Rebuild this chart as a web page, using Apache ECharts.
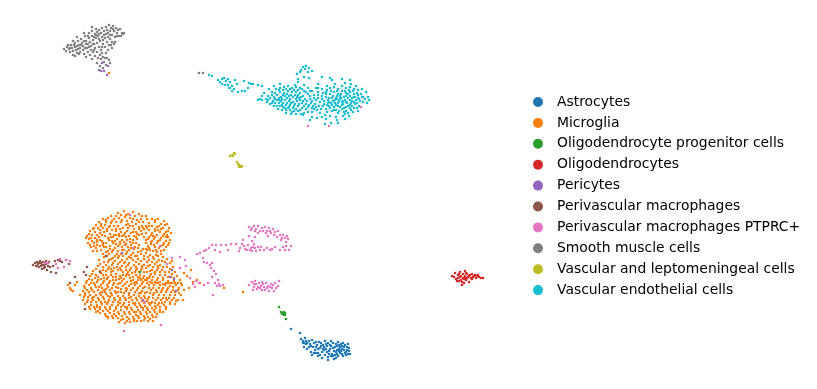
<!DOCTYPE html>
<html>
<head>
<meta charset="utf-8">
<title>UMAP cell types</title>
<script src="https://cdn.jsdelivr.net/npm/echarts@6/dist/echarts.min.js"></script>
<style>
  html, body { margin: 0; padding: 0; background: #fff; }
  #main { width: 817px; height: 389px; }
</style>
</head>
<body>
<div id="main"></div>
<script>
// no ticks in the reference, so values are read off the picture in its own units
const astrocytes = [[291,329],[300,333],[301,339],[303,341],[305,338],[307,343],[304,347],[307,349],[310,344],[312,340],[313,347],[311,352],[315,350],[317,345],[319,342],[320,348],[318,353],[322,352],[323,345],[325,341],[326,349],[325,355],[328,357],[329,351],[330,345],[331,341],[333,348],[332,354],[334,359],[336,352],[337,346],[338,342],[339,349],[338,356],[340,353],[342,346],[343,343],[344,350],[343,356],[346,352],[347,347],[349,351],[350,354],[348,344],[306,344],[309,347],[314,343],[316,347],[321,343],[324,350],[327,346],[330,349],[333,343],[335,355],[337,350],[340,347],[341,351],[345,345],[346,355],[328,360],[322,358],[318,356],[312,355],[303,343],[335,347],[339,345],[331,356],[326,344],[320,355],[342,354],
[304,343],[306,341],[309,341],[311,346],[314,353],[316,342],[318,349],[321,346],[323,349],[327,352],[329,354],[331,346],[334,351],[336,344],[337,354],[339,351],[341,344],[342,349],[344,347],[345,353],[347,350],[348,354],[349,348],[333,356],[336,358],[324,347],[328,343],[316,353]];
const microglia = [
[118,213],[124,211],[128,214],[133,212],[139,214],[146,216],[111,216],[121,215],[135,216],
[103,219],[108,218],[114,219],[119,218],[125,217],[130,218],[141,219],[147,219],[152,219],[158,219],[164,221],[99,222],[137,220],[127,221],[116,222],
[96,225],[101,224],[106,222],[111,223],[121,222],[132,222],[143,222],[149,223],[155,222],[161,224],[167,224],[93,229],[136,224],[146,226],[126,225],[114,226],
[90,231],[98,228],[103,228],[109,227],[118,226],[123,228],[130,226],[139,227],[152,226],[157,227],[163,228],[169,228],[95,232],[134,229],[144,229],[107,231],
[87,236],[92,235],[100,233],[104,232],[112,230],[116,231],[121,232],[127,231],[136,232],[141,231],[149,230],[155,231],[160,232],[166,232],[171,233],[89,239],[131,233],[146,233],[110,234],
[95,238],[99,237],[105,236],[114,235],[119,236],[124,235],[129,236],[134,236],[139,235],[151,235],[157,235],[163,236],[168,237],[86,238],[92,241],[144,237],[108,238],[117,239],
[97,242],[102,241],[112,241],[122,240],[127,240],[133,240],[148,239],[154,239],[160,240],[166,241],[170,240],[88,243],[137,239],[106,243],[116,244],[157,243],
[94,246],[100,246],[110,246],[120,244],[125,245],[131,245],[136,243],[146,243],[151,244],[163,245],[168,245],[104,247],[115,248],[155,247],[159,248],
[93,251],[97,251],[108,251],[112,252],[118,251],[124,250],[129,250],[134,249],[149,248],[153,251],[164,250],[143,249],[121,254],[138,252],[146,253],
[103,254],[107,256],[115,256],[126,254],[131,255],[135,256],[141,254],[150,255],[156,255],[161,254],[99,260],[118,258],[111,259],
[104,262],[108,262],[113,263],[122,260],[127,259],[133,260],[138,259],[144,259],[149,260],[154,259],[159,260],[165,262],[170,263],[129,263],[118,264],
[98,266],[103,267],[109,267],[114,268],[122,266],[126,267],[134,265],[139,264],[144,265],[150,265],[155,264],[160,265],[167,267],[173,267],[146,268],[131,268],
[93,271],[100,271],[106,271],[111,272],[118,270],[123,272],[128,272],[136,270],[141,270],[152,270],[157,270],[162,270],[169,272],[175,272],[147,272],[132,273],[116,274],
[90,276],[96,275],[103,275],[108,277],[113,277],[120,276],[126,276],[136,275],[140,275],[144,276],[150,276],[155,274],[160,275],[165,275],[171,277],[177,276],[130,278],
[87,281],[92,280],[98,280],[104,281],[110,281],[116,280],[122,281],[127,282],[133,280],[138,280],[147,280],[152,280],[157,280],[163,280],[168,281],[174,281],[180,280],[143,282],[118,284],
[84,286],[89,285],[95,285],[101,285],[107,285],[113,285],[123,286],[129,286],[135,285],[140,286],[149,285],[154,285],[160,285],[165,285],[170,286],[176,285],[182,285],[145,287],[118,288],
[83,291],[87,290],[92,290],[98,290],[104,290],[110,290],[115,291],[126,291],[131,290],[137,290],[142,291],[151,290],[156,290],[162,290],[167,290],[173,290],[178,290],[184,290],[147,292],[121,292],
[71,290],[80,295],[85,295],[90,295],[96,295],[101,295],[106,294],[112,295],[118,296],[123,296],[129,295],[134,295],[139,296],[144,296],[153,295],[159,295],[164,295],[170,295],[175,295],[181,295],[149,297],
[83,300],[88,300],[93,300],[99,300],[104,299],[109,300],[115,300],[120,300],[126,300],[132,300],[137,300],[142,301],[147,301],[156,300],[161,300],[167,300],[172,300],[178,300],[152,302],
[85,304],[91,305],[97,305],[102,304],[107,304],[112,305],[118,305],[123,305],[129,305],[135,305],[140,305],[145,306],[150,305],[158,305],[164,305],[170,304],[175,304],[155,306],
[90,309],[95,309],[100,309],[106,309],[110,309],[116,309],[121,310],[127,309],[132,310],[138,310],[143,310],[148,310],[154,310],[160,310],[166,309],[96,312],
[100,313],[105,314],[110,313],[114,314],[119,314],[125,314],[130,314],[136,315],[141,314],[147,314],[152,315],[157,314],[163,312],[108,317],
[108,318],[113,318],[118,318],[123,319],[129,319],[134,319],[139,318],[145,318],[150,319],[156,317],[119,322],[125,323],[130,322],[134,321],[141,321],[148,321],[153,321],
[97,240],[118,226],[142,226],[128,228],[153,236],[103,243],[126,244],[161,229],[135,247],[113,237],[100,230],[110,226],[120,229],[137,234],[122,250],[117,254],[106,247],[146,249],[157,252],[152,241],[138,248],[122,236],[166,237],[91,247],
[124,263],[111,269],[136,267],[142,268],[158,268],[151,274],[127,274],[104,278],[94,283],[99,287],[108,287],[121,278],[140,278],[147,278],[134,283],[156,283],[163,288],[170,283],[126,288],[116,293],[139,293],[154,293],[102,292],[92,298],[110,297],[129,298],[145,298],[166,298],[175,292],[120,303],[135,303],[151,303],[105,302],[162,303],[97,307],[127,307],[143,308],[114,311],[136,312],[156,308],[122,316],[144,316],
[68,285],[70,288],[73,291],[75,285],[77,282],[191,270],[187,276],[193,282],[197,280],[200,283],[184,273],[183,300],[189,288],[243,292],[224,288],[109,73],
[116,216],[126,215],[142,216],[106,220],[122,220],[133,219],[155,220],[101,226],[112,221],[128,224],[139,222],[149,226],[159,226],[165,225],[94,228],[105,225],[116,229],[133,226],[143,228],[155,229],[168,231],[89,234],[97,235],[107,229],[119,234],[125,233],[133,232],[139,229],[147,228],[152,233],[158,230],[164,234],[91,238],[102,235],[111,237],[116,235],[126,237],[130,239],[136,237],[142,234],[149,237],[155,237],[161,238],[167,235],[94,243],[100,240],[109,240],[115,241],[120,242],[124,242],[130,242],[146,240],[151,242],[158,241],[164,243],[169,243],[90,245],[97,245],[103,245],[113,243],[118,246],[128,247],[133,243],[139,245],[148,246],[154,245],[161,246],[166,247],[96,248],[101,250],[106,252],[110,249],[113,250],[122,247],[127,252],[131,248],[141,251],[147,250],[150,250],[156,250],[161,251],[104,257],[109,254],[113,258],[119,256],[123,256],[129,257],[133,253],[137,256],[144,256],[148,257],[153,257],[158,256],[163,257],[109,260],[115,261],[120,262],[125,262],[131,258],[136,262],[141,261],[147,262],[152,262],[157,262],[162,261],[167,259],[172,261],
[100,264],[106,265],[112,265],[117,267],[120,268],[128,265],[137,269],[142,266],[148,266],[153,267],[158,266],[163,267],[170,269],[96,269],[103,270],[108,269],[113,271],[121,270],[126,270],[130,270],[135,272],[139,272],[144,272],[150,271],[155,272],[160,272],[165,272],[172,274],[92,274],[98,277],[101,273],[106,275],[111,275],[116,277],[123,275],[129,275],[133,277],[138,277],[143,278],[149,278],[153,277],[158,278],[163,278],[168,277],[174,278],[89,279],[95,278],[101,279],[107,279],[113,280],[119,279],[124,279],[131,281],[136,282],[141,280],[145,280],[150,282],[155,282],[160,282],[166,283],[172,283],[178,283],[86,283],[91,283],[97,282],[103,283],[109,283],[114,283],[120,283],[125,284],[131,284],[137,283],[142,284],[147,283],[152,283],[158,283],[163,284],[168,283],[175,283],[181,283],[85,288],[91,288],[96,287],[102,288],[106,289],[112,288],[116,287],[121,289],[127,289],[133,288],[138,288],[143,288],[149,288],[153,288],[159,288],[168,288],[173,287],[179,288],[85,293],[89,292],[94,292],[100,293],[105,292],[111,293],[118,292],[124,293],[129,293],[135,292],[141,293],[145,293],[150,293],[157,292],[161,292],[166,292],[171,292],[179,293],[84,297],[88,297],[94,297],[98,298],[103,297],[108,296],[114,298],[120,298],[125,298],[131,297],[136,298],[141,298],[148,299],[153,298],[158,298],[163,298],[169,298],[174,298],[87,302],[91,302],[96,302],[101,302],[108,302],[113,302],[118,302],[124,303],[129,302],[133,303],[139,303],[144,303],[149,303],[155,303],[159,303],[165,302],[170,302],[176,301],[89,307],[94,307],[100,307],[105,307],[110,307],[116,307],[121,307],[125,307],[131,308],[137,307],[141,307],[147,308],[152,308],[160,307],[166,307],[98,311],[103,311],[108,311],[118,312],[124,312],[129,312],[134,312],[140,312],[146,312],[150,312],[155,312],[160,312],[106,316],[112,316],[116,316],[127,317],[133,317],[138,316],[148,317],[153,317],[121,320],[127,321],[137,321],[144,320]
];
const opc = [[279,307],[281,312],[283,313],[284,312],[285,313],[282,314],[284,315],[285,315],[286,319],[140,272]];
const oligodendrocytes = [[452,276],[454,277],[455,273],[456,279],[458,275],[458,278],[459,281],[460,272],[461,276],[461,280],[463,274],[463,278],[464,283],[465,271],[465,276],[466,280],[467,274],[468,277],[469,282],[470,275],[471,278],[472,274],[473,277],[475,275],[476,278],[477,276],[479,277],[481,278],[483,278],[462,285],[464,279],[460,277],[457,281],[466,273],[459,274],[462,282],[465,278],[467,278],[469,276],[472,279],[474,276],[478,275]];
const pericytes = [[102,63],[108,66],[101,71],[104,71],[107,75],[122,253],[170,277],[172,270],[174,279],[176,291],[143,300]];
const perivascularMacrophages = [[33,265],[35,263],[36,266],[37,262],[38,264],[39,267],[40,261],[41,263],[41,266],[42,269],[43,262],[44,265],[45,267],[46,261],[46,264],[47,270],[48,266],[49,262],[50,267],[51,272],[53,266],[55,261],[56,273],[58,260],[60,261],[62,262],[66,260],[69,264],[37,266],[42,265],[39,263],[44,268],[84,272],[87,267],[86,275],[70,283],[75,277],[85,309],[106,256],[100,272]];
const ptprc = [
[249,227],[251,230],[254,226],[256,229],[258,226],[260,231],[262,228],[265,227],[267,231],[269,228],[271,233],[273,229],[275,232],[278,231],[280,235],[283,235],[285,238],[288,239],[286,242],[281,240],[277,237],[268,236],[258,233],[255,237],[249,236],[252,241],[243,240],[242,244],[240,248],[239,251],[245,249],[248,245],[250,250],[253,247],[254,244],[256,251],[258,247],[260,250],[264,250],[267,248],[272,249],[275,247],[280,250],[285,250],[289,250],[286,246],[291,246],
[236,244],[231,244],[226,245],[221,245],[216,245],[212,245],[209,248],[206,250],[204,251],[200,253],[197,254],[215,250],[220,252],[228,250],[203,258],[204,262],[207,263],[210,265],[212,263],[211,268],[214,271],[216,274],[212,277],[218,280],[219,284],[217,286],[215,283],[220,286],[223,285],[208,283],[204,285],[199,283],[196,281],[193,284],[190,278],[195,287],[213,295],
[249,285],[252,282],[254,287],[256,284],[257,289],[259,283],[261,286],[262,290],[264,287],[266,283],[268,286],[269,291],[271,284],[272,288],[275,283],[276,288],[278,286],[279,281],[253,290],[262,282],[255,281],[258,287],[263,284],[265,290],[267,288],[270,287],[273,285],[274,291],[260,288],[254,284],
[252,228],[255,231],[263,231],[266,233],[270,231],[274,235],[282,238],[287,236],[251,248],[255,248],[261,247],[244,246],[247,250],[252,251],[270,250],[283,247],
[45,263],[48,263],[56,264],[58,268],[64,267],[60,259],[70,261],[66,260],[180,257],[185,260],[186,266],[172,258],[167,264],[180,268],[160,246],[133,248],[130,215],[145,302],[161,325],[124,331],[308,126],[361,107],[329,126]
];
const smoothMuscle = [[64,49],[66,51],[67,47],[69,49],[70,52],[71,45],[72,48],[73,51],[73,55],[75,43],[75,47],[76,50],[77,53],[78,41],[79,45],[80,48],[80,52],[81,39],[82,43],[83,46],[83,50],[84,54],[85,36],[86,41],[86,44],[87,48],[88,52],[89,33],[89,38],[90,42],[91,46],[91,50],[92,31],[92,36],[93,40],[94,44],[95,34],[95,48],[96,29],[96,38],[97,32],[97,43],[98,36],[99,47],[99,30],[100,41],[101,33],[102,28],[102,37],[103,44],[104,31],[105,38],[106,27],[106,34],[107,30],[107,42],[108,37],[109,25],[110,31],[111,28],[112,35],[113,26],[114,31],[115,37],[116,28],[117,33],[118,30],[119,36],[120,29],[122,33],[123,34],[124,33],[93,52],[97,52],[100,55],[101,50],[105,47],[106,53],[108,50],[109,45],[112,42],[114,44],[110,39],[115,42],[101,59],[103,57],[107,58],[109,60],[104,62],[100,66],[106,65],[110,63],[103,68],[97,63],[75,56],[79,54],[86,57],[90,55],[68,45],[77,37],[84,33],[92,27],
[74,45],[77,46],[81,45],[84,41],[85,48],[88,44],[89,47],[93,44],[94,37],[99,34],[99,39],[104,35],[103,40],[108,33],[110,35],[113,29],[117,36],[121,36],[70,48],[73,41],[78,49],[88,36],[94,50],[96,35],[102,47],[111,45],[105,58],[99,70],[95,56],[98,58],[92,59],[102,53],[112,48],[199,73],[203,73]];
const vlmc = [[230,156],[232,155],[234,153],[235,154],[233,156],[237,162],[238,164],[239,165],[240,166],[241,167],[242,166],[239,167]];
const endothelial = [
[209,75],[212,76],[218,80],[220,82],[222,79],[224,78],[226,81],[228,79],[230,82],[222,84],[225,85],[228,85],[230,88],[232,86],[234,89],[232,91],[229,88],[235,80],[237,84],[244,81],[249,83],[251,84],[238,92],[242,91],[245,91],[248,88],[253,84],[258,85],[262,86],
[306,66],[303,67],[309,68],[305,69],[301,70],[308,72],[312,71],[300,72],[297,74],[304,77],[298,79],[309,78],[322,77],[330,78],[332,80],[342,79],[350,80],[351,84],[318,84],[316,88],[298,82],[295,85],[280,84],[274,86],[269,89],[262,96],[260,99],[258,100],
[264,93],[268,96],[272,92],[276,89],[280,88],[284,87],[288,86],[292,88],[296,87],[300,88],[304,85],[308,88],[312,91],[318,92],[322,89],[326,92],[330,88],[334,87],[338,89],[342,86],[346,88],[350,87],[354,89],[358,90],[362,89],[366,92],[368,97],[369,100],[367,103],
[266,99],[270,98],[273,101],[277,95],[280,92],[284,93],[288,91],[292,92],[296,92],[300,93],[304,91],[308,94],[314,95],[322,96],[326,97],[330,94],[334,92],[338,94],[342,91],[346,93],[350,92],[354,94],[358,95],[362,97],[365,99],[270,104],[274,106],[277,100],[281,97],[285,96],[289,96],[293,97],[297,97],[301,97],[305,99],[310,99],[316,100],[320,102],[324,101],[328,100],[332,98],[336,98],[340,96],[344,97],[348,98],[352,98],[356,100],[360,101],[363,102],
[267,102],[277,106],[281,101],[285,100],[289,101],[293,102],[297,101],[302,103],[306,104],[311,103],[319,106],[323,106],[327,105],[331,103],[335,103],[339,101],[343,101],[347,103],[351,103],[355,104],[359,106],[278,109],[282,105],[286,105],[290,105],[294,106],[298,106],[302,108],[306,109],[312,108],[326,109],[330,108],[334,107],[338,106],[342,105],[346,107],[350,108],[354,108],[282,110],[286,110],[290,110],[294,111],[298,111],[304,113],[308,112],[312,112],[332,111],[336,110],[342,109],[346,111],[351,110],[286,113],[291,114],[296,114],[301,114],[345,114],[338,113],[358,111],
[282,99],[290,99],[298,95],[283,107],[287,94],[295,104],[300,100],[293,108],[279,103],[288,108],[274,97],[303,96],[340,99],[345,100],[335,100],[348,94],[352,101],[343,104],[337,96],[332,105],[355,97],[328,103],[350,105],[358,98],
[312,117],[317,118],[322,117],[326,119],[310,120],[330,116],[336,117],[343,116],[349,116],[337,120],[338,123],[331,123],[325,124],[345,119],[303,115],[363,97],[262,100],
[272,95],[275,93],[279,90],[283,90],[286,89],[290,89],[294,90],[298,90],[302,89],[306,92],[310,96],[268,100],[272,103],[275,99],[279,98],[283,95],[287,98],[291,95],[295,95],[299,98],[303,101],[307,101],[275,103],[279,100],[283,103],[287,103],[291,103],[296,99],[299,104],[304,106],[280,106],[285,108],[289,107],[292,112],[296,109],[300,110],[308,107],[337,91],[341,94],[345,91],[349,90],[353,91],[357,93],[361,94],[333,96],[337,99],[341,98],[346,96],[350,96],[354,97],[359,99],[333,101],[338,103],[342,102],[346,102],[350,100],[354,102],[357,103],[329,106],[336,105],[340,107],[344,108],[348,106],[352,106],[334,110],[339,111],[344,112],[348,113],[318,98],[322,99],[326,94],[329,98],[315,104],[321,109],[327,112],[317,110],[313,106],[357,108],[353,112],
[310,91],[314,98],[318,95],[323,93],[327,90],[331,91],[312,101],[316,107],[324,104],[329,102],[309,105],[314,109],[320,113],[325,115],[318,88],[327,86],[335,84],[345,83],[356,86]
];

const seriesNames = ['Astrocytes', 'Microglia', 'Oligodendrocyte progenitor cells', 'Oligodendrocytes', 'Pericytes', 'Perivascular macrophages', 'Perivascular macrophages PTPRC+', 'Smooth muscle cells', 'Vascular and leptomeningeal cells', 'Vascular endothelial cells'];
const seriesValues = [astrocytes, microglia, opc, oligodendrocytes, pericytes, perivascularMacrophages, ptprc, smoothMuscle, vlmc, endothelial];
const colors = ['#1f77b4', '#ff7f0e', '#2ca02c', '#d62728', '#9467bd', '#8c564b', '#e377c2', '#7f7f7f', '#bcbd22', '#17becf'];

const myChart = echarts.init(document.getElementById('main'));

const option = {
  animation: false,
  color: colors,
  grid: { left: 0, right: 0, top: 0, bottom: 0 },
  xAxis: { type: 'value', min: 0, max: 817, show: false },
  yAxis: { type: 'value', min: 0, max: 389, inverse: true, show: false },
  legend: {
    orient: 'vertical',
    left: 528,
    top: 89,
    itemWidth: 10,
    itemHeight: 10,
    itemGap: 4.9,
    icon: 'circle',
    selectedMode: false,
    data: seriesNames,
    textStyle: {
      fontFamily: 'DejaVu Sans',
      fontSize: 13.9,
      color: '#000',
      padding: [0, 0, 0, 9],
      lineHeight: 16,
    },
  },
  series: seriesNames.map((name, i) => ({
    name: name,
    type: 'scatter',
    data: seriesValues[i],
    symbolSize: 2.6,
    itemStyle: { opacity: 1 },
    silent: true,
  })),
};

myChart.setOption(option);
</script>
</body>
</html>
